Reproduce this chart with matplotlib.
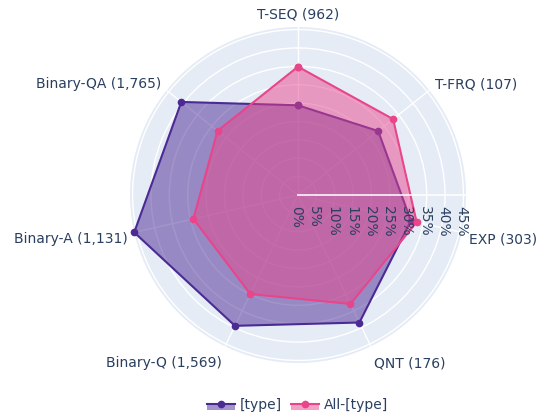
import numpy as np
import matplotlib
matplotlib.use("Agg")
import matplotlib.pyplot as plt
from matplotlib.patches import Rectangle
from matplotlib.lines import Line2D

categories = ["T-SEQ (962)", "T-FRQ (107)", "EXP (303)", "QNT (176)",
              "Binary-Q (1,569)", "Binary-A (1,131)", "Binary-QA (1,765)"]
type_vals = [24.4, 27.9, 31.5, 38.5, 39.5, 45.7, 40.6]
all_vals = [34.9, 33.1, 33.1, 32.9, 29.9, 29.2, 28.0]
series_names = ["[type]", "All-[type]"]
radial_ticks = [0, 5, 10, 15, 20, 25, 30, 35, 40, 45]
r_max = 45.7

purple = "#4b2a94"
pink = "#e8458b"
txt = "#2a3f5f"
bg = "#e5ecf6"
FS = 10

W, H = 541, 418
fig = plt.figure(figsize=(W / 100, H / 100), dpi=100)
cx, cy, R = 298, 195, 168
ax = fig.add_axes([(cx - R) / W, (H - cy - R) / H, 2 * R / W, 2 * R / H], polar=True)
ax.set_theta_offset(np.pi / 2)
ax.set_theta_direction(-1)
ax.set_facecolor(bg)
ax.spines["polar"].set_visible(False)

n = len(categories)
theta = np.arange(n) * 2 * np.pi / n
ax.set_xticks(theta)
ax.set_xticklabels([])
ax.set_yticks(radial_ticks)
ax.set_yticklabels([])
ax.set_ylim(0, r_max)
ax.grid(True, color="white", lw=1.0)
ax.tick_params(length=0)

tc = np.append(theta, theta[0])
for vals, col, z in [(type_vals, purple, 2), (all_vals, pink, 4)]:
    v = np.append(vals, vals[0])
    ax.fill(tc, v, color=col, alpha=0.5, lw=0, zorder=z)
    ax.plot(tc, v, color=col, lw=1.5, marker="o", ms=4.5, zorder=z + 1, clip_on=False)

# radial axis line (east direction)
ax.plot([np.pi / 2, np.pi / 2], [0, r_max], color="white", lw=1.3, alpha=0.85, zorder=10)
for t in radial_ticks:
    ax.annotate(f"{t}%", xy=(np.pi / 2, t), xytext=(-2, -11), textcoords="offset pixels",
                rotation=-90, ha="center", va="top", fontsize=FS, color=txt,
                zorder=11, annotation_clip=False)

# angular labels
for th, lab in zip(theta, categories):
    ang = np.pi / 2 - th
    c, s = np.cos(ang), np.sin(ang)
    ha = "left" if c > 0.05 else ("right" if c < -0.05 else "center")
    dx = 7 * c
    dy = -3.3 + 15.3 * s
    ax.annotate(lab, xy=(th, r_max), xytext=(dx, dy), textcoords="offset pixels",
                ha=ha, va="center", fontsize=FS, color=txt, annotation_clip=False)

# legend
def fx(x):
    return x / W

def fy(y):
    return 1 - y / H

for (x0, x1, tx), col, name in [((207, 235, 240), purple, series_names[0]),
                                 ((291, 319, 324), pink, series_names[1])]:
    fig.add_artist(Rectangle((fx(x0), fy(410)), fx(x1 - x0), (410 - 404) / H,
                             transform=fig.transFigure, facecolor=col, alpha=0.5, lw=0))
    fig.add_artist(Line2D([fx(x0), fx(x1)], [fy(404), fy(404)], transform=fig.transFigure,
                          color=col, lw=1.5))
    fig.add_artist(Line2D([fx((x0 + x1) / 2)], [fy(404)], transform=fig.transFigure,
                          color=col, marker="o", ms=4.5, lw=0))
    fig.text(fx(tx), fy(405), name, ha="left", va="center", fontsize=FS, color=txt)

fig.savefig("out.png", dpi=100)
